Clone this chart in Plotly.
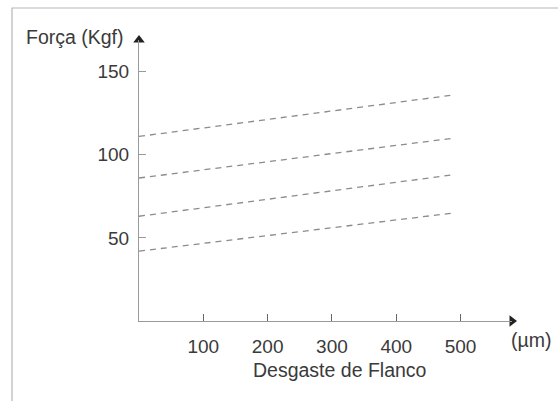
import plotly.graph_objects as go

# Cutting force vs. flank wear, one dashed line per condition
wear_um = [0, 490]
force_a = [111, 136]
force_b = [86, 110]
force_c = [63, 88]
force_d = [42, 65]
series = [force_a, force_b, force_c, force_d]

x_ticks = [100, 200, 300, 400, 500]
y_ticks = [50, 100, 150]
x_max = 580
y_max = 169

W, H = 558, 401
ML, MR, MT, MB = 139, 46, 40, 80
pw, ph = W - ML - MR, H - MT - MB

def px_to_paper_x(px):
    return (px - ML) / pw

def py_to_paper_y(py):
    return (H - MB - py) / ph

font = "Liberation Sans, Arial, sans-serif"
text_col = "#3a3a3a"
axis_col = "#9a9a9a"

fig = go.Figure()
for vals in series:
    fig.add_trace(go.Scatter(
        x=wear_um, y=vals, mode="lines",
        line=dict(color="#8c8c8c", width=1.3, dash="6px,5px"),
        hoverinfo="skip", showlegend=False,
    ))

# axis arrowheads
fig.add_trace(go.Scatter(
    x=[0], y=[y_max], mode="markers", cliponaxis=False,
    marker=dict(symbol="triangle-up", size=10, color="#222"),
    hoverinfo="skip", showlegend=False,
))
fig.add_trace(go.Scatter(
    x=[x_max], y=[0], mode="markers", cliponaxis=False,
    marker=dict(symbol="triangle-right", size=10, color="#222"),
    hoverinfo="skip", showlegend=False,
))

fig.update_xaxes(
    range=[0, x_max], tickvals=x_ticks, ticktext=[str(v) for v in x_ticks],
    showgrid=False, zeroline=False, showline=True, linecolor=axis_col, linewidth=1,
    ticks="inside", ticklen=7, tickcolor="#666", tickwidth=1,
    ticklabelstandoff=8,
    tickfont=dict(family=font, size=19, color=text_col),
)
fig.update_yaxes(
    range=[0, y_max], tickvals=y_ticks, ticktext=[str(v) for v in y_ticks],
    showgrid=False, zeroline=False, showline=True, linecolor=axis_col, linewidth=1,
    ticks="inside", ticklen=7, tickcolor="#999", tickwidth=1,
    ticklabelstandoff=5,
    tickfont=dict(family=font, size=19, color=text_col),
)

annotations = [
    dict(text="Força (Kgf)", x=px_to_paper_x(75), y=py_to_paper_y(37),
         xanchor="center", yanchor="middle"),
    dict(text="(µm)", x=px_to_paper_x(531), y=py_to_paper_y(340),
         xanchor="center", yanchor="middle"),
    dict(text="Desgaste de Flanco", x=px_to_paper_x(340), y=py_to_paper_y(370),
         xanchor="center", yanchor="middle"),
]
for a in annotations:
    a.update(xref="paper", yref="paper", showarrow=False,
             font=dict(family=font, size=19.5, color=text_col))

# thin outer frame of the figure panel
frame = dict(
    type="path", xref="paper", yref="paper",
    path=f"M {px_to_paper_x(12)},{py_to_paper_y(420)} "
         f"L {px_to_paper_x(12)},{py_to_paper_y(8)} "
         f"L {px_to_paper_x(600)},{py_to_paper_y(8)}",
    line=dict(color="#b5b5b5", width=1.2),
)

fig.update_layout(
    width=W, height=H,
    margin=dict(l=ML, r=MR, t=MT, b=MB),
    plot_bgcolor="white", paper_bgcolor="white",
    annotations=annotations, shapes=[frame],
    showlegend=False,
)

fig.write_html("out.html")
